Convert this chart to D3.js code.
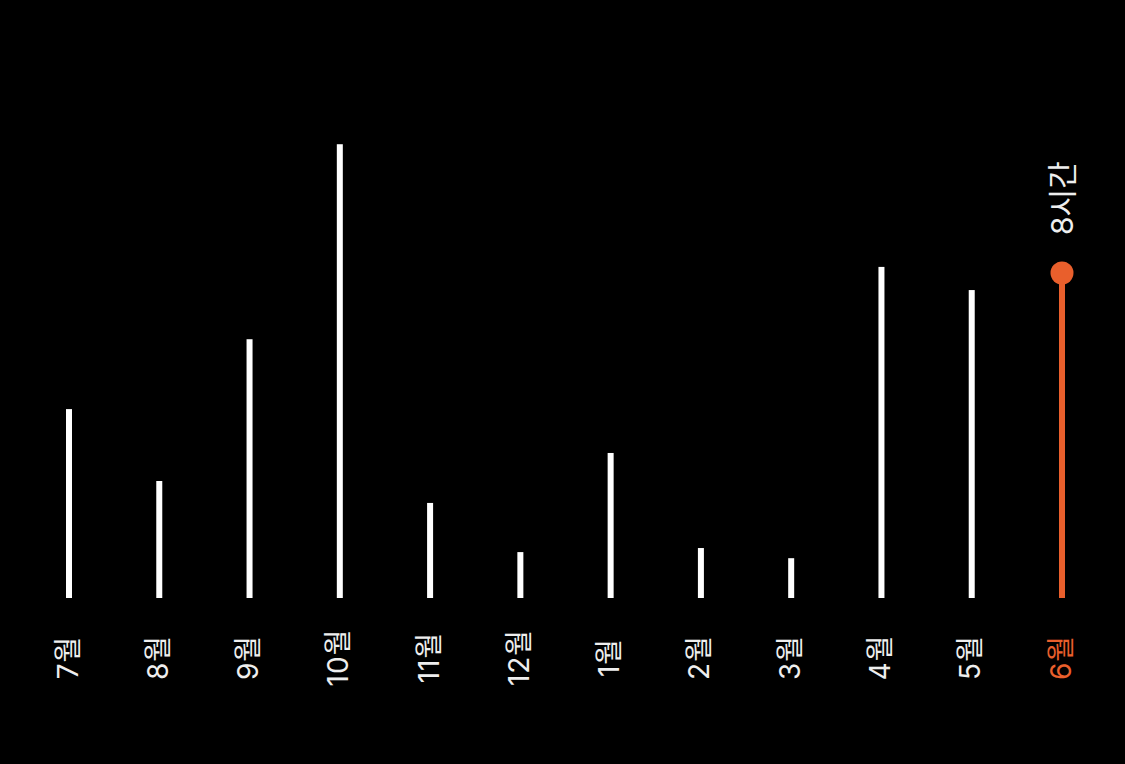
<!DOCTYPE html>
<html>
<head>
<meta charset="utf-8">
<script src="https://cdn.jsdelivr.net/npm/d3@7/dist/d3.min.js"></script>
<style>
html,body{margin:0;padding:0;background:#000;}
svg{display:block;}
</style>
</head>
<body>
<svg id="chart" width="1125" height="764"></svg>
<script>
const months = ["7월","8월","9월","10월","11월","12월","1월","2월","3월","4월","5월","6월"];
const hours = [4.65, 2.88, 6.37, 11.17, 2.34, 1.13, 3.57, 1.23, 0.98, 8.15, 7.58, 8.0];
const highlightLabel = "8시간";

const W = 1125, H = 764;
const svg = d3.select("#chart");
svg.append("rect").attr("width", W).attr("height", H).attr("fill", "#000");

const x = d3.scalePoint().domain(months).range([69, 1062]);
const y = d3.scaleLinear().domain([0, 12]).range([598, 110.5]);

const orange = "#e95f2c";
const last = months.length - 1;
const fam = "Inter, 'Noto Sans CJK KR', sans-serif";

svg.selectAll("rect.bar").data(months).join("rect")
  .attr("class","bar")
  .attr("x", d => x(d) - 3)
  .attr("width", 6)
  .attr("y", (d,i) => y(hours[i]))
  .attr("height", (d,i) => y(0) - y(hours[i]))
  .attr("fill", (d,i) => i === last ? orange : "#fff");

svg.append("circle")
  .attr("cx", x(months[last]))
  .attr("cy", y(hours[last]))
  .attr("r", 11.5)
  .attr("fill", orange);

svg.selectAll("text.lbl").data(months).join("text")
  .attr("class","lbl")
  .attr("transform", d => `translate(${x(d)},657.5) rotate(-90)`)
  .attr("text-anchor","middle")
  .attr("dy", 8.5)
  .attr("font-family", fam)
  .attr("font-size", 28)
  .attr("letter-spacing", 1)
  .attr("fill", (d,i) => i === last ? orange : "#eeeeee")
  .text(d => d);

svg.append("text")
  .attr("transform", `translate(${x(months[last])},${y(hours[last]) - 38}) rotate(-90)`)
  .attr("text-anchor","start")
  .attr("dy", 11)
  .attr("font-family", fam)
  .attr("font-size", 30)
  .attr("fill", "#eeeeee")
  .text(highlightLabel);
</script>
</body>
</html>
